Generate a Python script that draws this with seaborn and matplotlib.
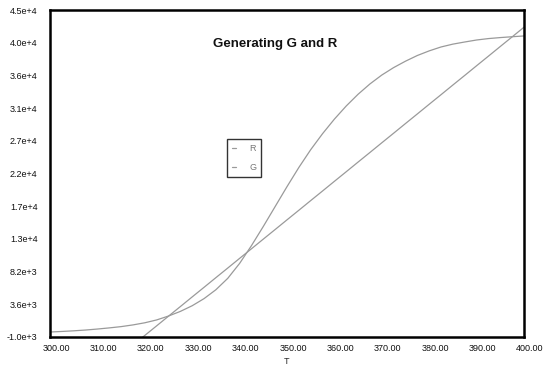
import numpy as np
import pandas as pd
import seaborn as sns
import matplotlib
matplotlib.use("Agg")
import matplotlib.pyplot as plt
from matplotlib.ticker import FuncFormatter, FixedLocator
from matplotlib.transforms import ScaledTranslation
from matplotlib.lines import Line2D

# ---- data ----
T = [300, 302.5, 305, 307.5, 310, 312.5, 315, 317.5, 320, 322.5, 325,
     327.5, 330, 332.5, 335, 337.5, 340, 342.5, 345, 347.5, 350,
     352.5, 355, 357.5, 360, 362.5, 365, 367.5, 370, 372.5, 375,
     377.5, 380, 382.5, 385, 387.5, 390, 392.5, 395, 397.5, 400]
G = [-300, -220, -130, -20, 120, 280, 460, 700, 1000, 1400, 1950,
     2600, 3400, 4400, 5650, 7250, 9350, 11850, 14550, 17350, 20150,
     22850, 25350, 27600, 29650, 31500, 33150, 34600, 35850, 36900, 37800,
     38600, 39250, 39800, 40200, 40500, 40780, 40980, 41120, 41240, 41350]
R = [-11620, -10270, -8910, -7560, -6200, -4850, -3490, -2140, -780, 570, 1930,
     3280, 4640, 5990, 7350, 8700, 10060, 11410, 12770, 14120, 15480,
     16830, 18190, 19540, 20900, 22250, 23610, 24960, 26320, 27670, 29030,
     30380, 31740, 33090, 34450, 35800, 37160, 38510, 39870, 41220, 42580]
x_ticks = [300, 310, 320, 330, 340, 350, 360, 370, 380, 390, 400]
y_ticks = [-1000, 3600, 8200, 12800, 17400, 22000, 26600, 31200, 35800, 40400, 45000]
title = "Generating G and R"
series_order = ["R", "G"]

df = pd.concat([
    pd.DataFrame({"T": T, "value": R, "series": "R"}),
    pd.DataFrame({"T": T, "value": G, "series": "G"}),
])

sns.set_style("white")
plt.rcParams["font.family"] = ["Liberation Sans", "DejaVu Sans"]

fig = plt.figure(figsize=(5.51, 3.70), dpi=100)
ax = fig.add_axes([50 / 551, 1 - 337 / 370, (524 - 50) / 551, (337 - 10) / 370])

line_color = "#9a9a9a"
sns.lineplot(data=df, x="T", y="value", hue="series", hue_order=series_order,
             palette={"R": line_color, "G": line_color}, linewidth=0.9,
             legend=False, ax=ax, sort=False)

ax.set_xlim(300, 400)
ax.set_ylim(-1000, 45000)
ax.xaxis.set_major_locator(FixedLocator(x_ticks))
ax.yaxis.set_major_locator(FixedLocator(y_ticks))


def sci(v, pos=None):
    if v == 0:
        return "0.0e+0"
    e = int(np.floor(np.log10(abs(v))))
    m = v / 10 ** e
    return f"{m:.1f}e{e:+d}"


ax.yaxis.set_major_formatter(FuncFormatter(sci))
ax.xaxis.set_major_formatter(FuncFormatter(lambda v, p: f"{v:.2f}"))

ax.tick_params(axis="both", direction="in", length=3, width=0.8, colors="black",
               labelsize=6.5, labelcolor="#111111")
ax.tick_params(axis="y", pad=9)
ax.tick_params(axis="x", pad=5)
ax.tick_params(top=False, right=False)
for lab in ax.get_xticklabels():
    lab.set_transform(lab.get_transform() + ScaledTranslation(6 / 100, 0, fig.dpi_scale_trans))

for s in ax.spines.values():
    s.set_visible(True)
    s.set_color("black")
    s.set_linewidth(1.8)

ax.set_xlabel("T", fontsize=6.5, labelpad=3)
ax.set_ylabel("")

ax.text((275 - 50) / 474, 1 - (44 - 10) / 327, title, transform=ax.transAxes,
        ha="center", va="center", fontsize=9.5, fontweight="bold", color="#111111")

handles = [Line2D([], [], color=line_color, linewidth=0.9) for _ in series_order]
leg = fig.legend(handles, series_order, loc="upper left",
                 bbox_to_anchor=(227 / 551, 1 - 139 / 370), borderaxespad=0,
                 fontsize=6.5, handlelength=0.5, handletextpad=1.4,
                 labelspacing=1.1, borderpad=0.55, frameon=True, fancybox=False)
leg.get_frame().set_edgecolor("black")
leg.get_frame().set_linewidth(1.0)
for t in leg.get_texts():
    t.set_color("#777777")

fig.savefig("out.png", dpi=100, facecolor="white")
